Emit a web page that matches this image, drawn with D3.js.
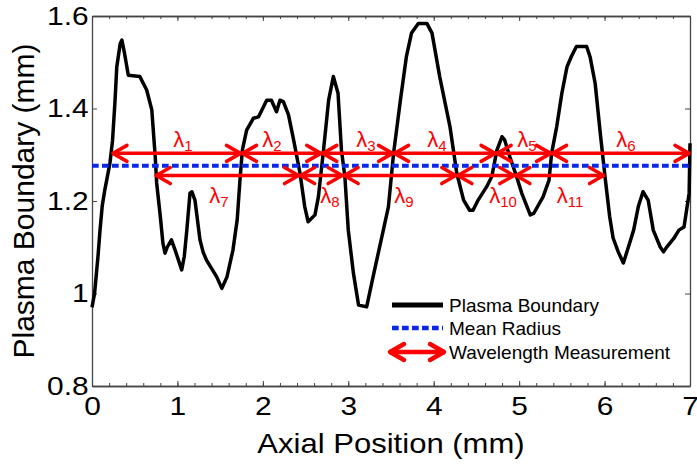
<!DOCTYPE html>
<html>
<head>
<meta charset="utf-8">
<script src="https://cdn.jsdelivr.net/npm/d3@7"></script>
<style>
	body { margin: 0; background: #fff; }
	svg text { font-family: "Liberation Sans", Arial, sans-serif; }
</style>
</head>
<body>
<div id="chart"></div>
<script>
// Plasma boundary trace (mm)
const axialPos = [0.00, 0.03, 0.07, 0.094, 0.12, 0.15, 0.21, 0.24, 0.27, 0.29, 0.33, 0.35, 0.38, 0.425,
	0.56, 0.64, 0.70, 0.74, 0.757, 0.80, 0.83, 0.855, 0.88, 0.93, 0.98, 1.05, 1.08, 1.11, 1.147, 1.17,
	1.205, 1.264, 1.30, 1.34, 1.46, 1.52, 1.58, 1.65, 1.70, 1.73, 1.76, 1.81, 1.89, 1.95, 2.045, 2.10,
	2.16, 2.20, 2.24, 2.30, 2.36, 2.435, 2.49, 2.53, 2.61, 2.65, 2.71, 2.77, 2.825, 2.88, 2.92, 2.96,
	3.00, 3.06, 3.12, 3.215, 3.29, 3.41, 3.47, 3.53, 3.61, 3.68, 3.74, 3.82, 3.92, 3.98, 4.07, 4.19,
	4.27, 4.35, 4.42, 4.46, 4.52, 4.62, 4.68, 4.74, 4.80, 4.83, 4.89, 4.97, 5.03, 5.13, 5.17, 5.28,
	5.35, 5.38, 5.44, 5.50, 5.56, 5.61, 5.67, 5.79, 5.83, 5.89, 5.95, 6.005, 6.06, 6.10, 6.16, 6.22,
	6.28, 6.34, 6.395, 6.45, 6.51, 6.57, 6.65, 6.69, 6.73, 6.81, 6.87, 6.93, 6.99, 7.00];
const boundary = [0.97, 1.00, 1.08, 1.137, 1.19, 1.224, 1.282, 1.33, 1.418, 1.49, 1.54, 1.548, 1.52, 1.472,
	1.469, 1.44, 1.397, 1.296, 1.239, 1.166, 1.109, 1.087, 1.10, 1.116, 1.09, 1.051, 1.08, 1.137, 1.217, 1.22,
	1.202, 1.116, 1.09, 1.072, 1.036, 1.011, 1.036, 1.094, 1.16, 1.24, 1.31, 1.353, 1.379, 1.382, 1.418, 1.418,
	1.393, 1.418, 1.415, 1.386, 1.332, 1.26, 1.188, 1.155, 1.17, 1.209, 1.31, 1.418, 1.469, 1.433, 1.31, 1.253,
	1.137, 1.044, 0.975, 0.971, 1.036, 1.137, 1.188, 1.303, 1.418, 1.512, 1.563, 1.584, 1.584, 1.563, 1.469, 1.361,
	1.26, 1.202, 1.18, 1.18, 1.202, 1.231, 1.253, 1.31, 1.339, 1.332, 1.296, 1.253, 1.217, 1.17, 1.173, 1.209,
	1.245, 1.303, 1.361, 1.433, 1.49, 1.512, 1.534, 1.534, 1.512, 1.454, 1.346, 1.253, 1.166, 1.12, 1.09, 1.066,
	1.101, 1.137, 1.188, 1.22, 1.202, 1.137, 1.101, 1.09, 1.101, 1.119, 1.137, 1.144, 1.217, 1.325];

const meanRadius = 1.276;

// wavelength measurements: [start, end] on two levels
const upperLevel = 1.303;
const upperSpans = [[0.234, 1.75], [1.75, 2.69], [2.69, 3.53], [3.53, 4.73], [4.73, 5.38], [5.38, 7.0]];
const upperLabelX = [1.065, 2.107, 3.207, 4.038, 5.092, 6.251];
const lowerLevel = 1.255;
const lowerSpans = [[0.74, 2.43], [2.43, 2.94], [2.94, 4.27], [4.27, 4.95], [4.95, 6.0]];
const lowerLabelX = [1.487, 2.786, 3.652, 4.811, 5.595];
const upperLabelY = 1.317, lowerLabelY = 1.196;

const xTicks = [0, 1, 2, 3, 4, 5, 6, 7];
const xMinor = d3.range(0, 7.001, 0.2);
const yTicks = [0.8, 1, 1.2, 1.4, 1.6];
const legendNames = ["Plasma Boundary", "Mean Radius", "Wavelength Measurement"];

const width = 697, height = 465;
const margin = {top: 16, right: 7, bottom: 79, left: 92};
const red = "#ff0000", blue = "#0a28e6", axisColor = "#444";
const stretch = 1.15; // tick labels look a bit wide in the original

const svg = d3.select("#chart").append("svg")
	.attr("width", width).attr("height", height);

const x = d3.scaleLinear([0, 7], [margin.left, width - margin.right]);
const y = d3.scaleLinear([0.8, 1.6], [height - margin.bottom, margin.top]);

// Axes (ticks point inward)
function styleAxis(g) {
	g.selectAll("path.domain").attr("stroke", axisColor).attr("stroke-width", 1.3);
	g.selectAll(".tick line").attr("stroke", axisColor).attr("stroke-width", 1);
}

svg.append("g")
	.attr("transform", `translate(0,${y(0.8)})`)
	.call(d3.axisBottom(x).tickValues(xMinor).tickSize(-3).tickSizeOuter(0).tickFormat(""))
	.call(styleAxis);
const axisX = svg.append("g")
	.attr("transform", `translate(0,${y(0.8)})`)
	.call(d3.axisBottom(x).tickValues(xTicks).tickSize(-5).tickSizeOuter(0).tickPadding(11).tickFormat(d3.format("d")))
	.call(styleAxis);
axisX.selectAll("text").attr("font-size", 26).attr("fill", "#000")
	.attr("transform", `scale(${stretch},1)`);

svg.append("g")
	.attr("transform", `translate(0,${y(1.6)})`)
	.call(d3.axisTop(x).tickValues(xMinor).tickSize(-3).tickSizeOuter(0).tickFormat(""))
	.call(styleAxis);
svg.append("g")
	.attr("transform", `translate(0,${y(1.6)})`)
	.call(d3.axisTop(x).tickValues(xTicks).tickSize(-5).tickSizeOuter(0).tickFormat(""))
	.call(styleAxis);

const axisY = svg.append("g")
	.attr("transform", `translate(${x(0)},0)`)
	.call(d3.axisLeft(y).tickValues(yTicks).tickSize(-5).tickSizeOuter(0).tickPadding(3).tickFormat(d3.format("~g")))
	.call(styleAxis);
axisY.selectAll("text").attr("font-size", 26).attr("fill", "#000")
	.attr("transform", `scale(${stretch},1)`);

svg.append("g")
	.attr("transform", `translate(${x(7)},0)`)
	.call(d3.axisRight(y).tickValues(yTicks).tickSize(-5).tickSizeOuter(0).tickFormat(""))
	.call(styleAxis);

// Axis labels
svg.append("text")
	.attr("transform", `translate(${(x(0) + x(7)) / 2},${height - 12}) scale(${stretch},1)`)
	.attr("text-anchor", "middle").attr("font-size", 27)
	.text("Axial Position (mm)");
svg.append("text")
	.attr("transform", `translate(34,${(y(0.8) + y(1.6)) / 2}) rotate(-90)`)
	.attr("text-anchor", "middle").attr("font-size", 30)
	.text("Plasma Boundary (mm)");

// Boundary trace
const trace = d3.zip(axialPos, boundary);
svg.append("path")
	.datum(trace)
	.attr("fill", "none").attr("stroke", "#000").attr("stroke-width", 3.5)
	.attr("stroke-linejoin", "round")
	.attr("d", d3.line().x((d) => x(d[0])).y((d) => y(d[1])));

// Mean radius
svg.append("line")
	.attr("x1", x(0)).attr("x2", x(7))
	.attr("y1", y(meanRadius)).attr("y2", y(meanRadius))
	.attr("stroke", blue).attr("stroke-width", 4).attr("stroke-dasharray", "6.7,3.3");

// double-headed arrow with open chevron heads
function arrow(g, x1, x2, yy, w = 3.5) {
	const hl = 15, hw = 8;
	g.append("line").attr("x1", x1).attr("x2", x2).attr("y1", yy).attr("y2", yy)
		.attr("stroke", red).attr("stroke-width", w);
	g.append("path")
		.attr("d", `M${x1 + hl},${yy - hw}L${x1 + 1},${yy}L${x1 + hl},${yy + hw}` +
			`M${x2 - hl},${yy - hw}L${x2 - 1},${yy}L${x2 - hl},${yy + hw}`)
		.attr("fill", "none").attr("stroke", red).attr("stroke-width", w)
		.attr("stroke-linecap", "round").attr("stroke-linejoin", "round");
}

const arrows = svg.append("g");
upperSpans.forEach((s) => arrow(arrows, x(s[0]), x(s[1]), y(upperLevel)));
lowerSpans.forEach((s) => arrow(arrows, x(s[0]), x(s[1]), y(lowerLevel)));

// λ labels
function lambda(xv, yv, n) {
	const t = svg.append("text")
		.attr("x", x(xv)).attr("y", y(yv))
		.attr("text-anchor", "middle").attr("fill", red)
		.attr("font-family", "'Open Sans', sans-serif").attr("font-size", 22);
	t.append("tspan").text("λ");
	t.append("tspan").attr("font-size", 15).attr("dy", 4).text(n);
}
upperLabelX.forEach((xv, i) => lambda(xv, upperLabelY, i + 1));
lowerLabelX.forEach((xv, i) => lambda(xv, lowerLabelY, i + 1 + upperLabelX.length));

// Legend
const legend = svg.append("g").attr("transform", "translate(388,305)");
legend.append("line").attr("x1", 4).attr("x2", 55).attr("y1", 0).attr("y2", 0)
	.attr("stroke", "#000").attr("stroke-width", 5);
legend.append("line").attr("x1", 4).attr("x2", 55).attr("y1", 23).attr("y2", 23)
	.attr("stroke", blue).attr("stroke-width", 4.5).attr("stroke-dasharray", "6.7,3.3");
arrow(legend, 1, 57, 47, 4.5);
legend.selectAll("text.item")
	.data(legendNames)
	.join("text")
	.attr("class", "item")
	.attr("x", 61).attr("y", (d, i) => i * 23.5)
	.attr("dy", "0.35em").attr("font-size", 19)
	.text((d) => d);
</script>
</body>
</html>
